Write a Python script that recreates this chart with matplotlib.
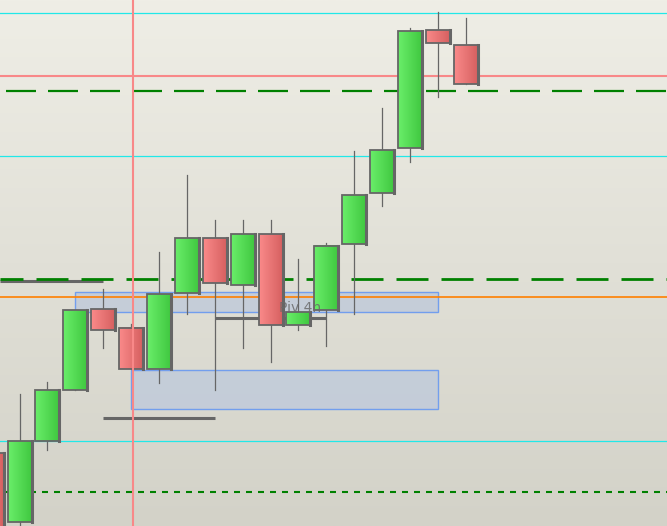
import numpy as np
import matplotlib.pyplot as plt
from matplotlib.patches import Rectangle
from matplotlib.colors import LinearSegmentedColormap

plt.rcParams['lines.scale_dashes'] = False

# candle index, open, high, low, close
idx = np.arange(18)
opens = [1.0873, 1.0804, 1.0885, 1.0936, 1.1017, 1.0998, 1.0957, 1.1033, 1.1088,
         1.1041, 1.1092, 1.1001, 1.1016, 1.1082, 1.1133, 1.1178, 1.1296, 1.1281]
highs = [1.0880, 1.0932, 1.0944, 1.1016, 1.1037, 1.1002, 1.1074, 1.1151, 1.1106,
         1.1106, 1.1106, 1.1067, 1.1083, 1.1175, 1.1218, 1.1298, 1.1314, 1.1308]
lows = [1.0791, 1.0794, 1.0876, 1.0936, 1.0978, 1.0957, 1.0943, 1.1012, 1.0936,
        1.0978, 1.0964, 1.0996, 1.0980, 1.1012, 1.1120, 1.1164, 1.1229, 1.1242]
closes = [1.0796, 1.0885, 1.0936, 1.1016, 1.0996, 1.0957, 1.1032, 1.1088, 1.1043,
          1.1092, 1.1001, 1.1014, 1.1080, 1.1131, 1.1176, 1.1295, 1.1283, 1.1242]

cyan_levels = [1.1313, 1.1170, 1.0885]
red_level = 1.1250
green_dash_levels = [1.1235, 1.1047]
green_dot_level = 1.0834
orange_level = 1.1029
# (level, x start, x end)
gray_segments = [(1.1045, 0.3, 4.0), (1.1008, 8.0, 12.0), (1.0908, 4.0, 8.0)]
# (x start, x end, low, high)
zones = [(3.0, 16.0, 1.1014, 1.1034), (5.0, 16.0, 1.0917, 1.0956)]
zone_label = "Piv 4h"
vline_x = 5.05

xmin, xmax = 0.30, 24.21
ymin, ymax = 1.0800, 1.1326

px = 0.72  # points per pixel
fig = plt.figure(figsize=(6.67, 5.26), dpi=100)
ax = fig.add_axes([0, 0, 1, 1])
ax.set_axis_off()

# background gradient
bg = LinearSegmentedColormap.from_list('bg', ['#d3d2c8', '#efeee6'])
ax.imshow(np.linspace(0, 1, 256).reshape(-1, 1), cmap=bg, aspect='auto',
          extent=[xmin, xmax, ymin, ymax], origin='lower', zorder=0)

# zones
for x0, x1, lo, hi in zones:
    ax.add_patch(Rectangle((x0, lo), x1 - x0, hi - lo, facecolor='#c3ccd9',
                           edgecolor='#6a9af0', lw=1.0, alpha=0.92, zorder=1))

for lvl in cyan_levels:
    ax.axhline(lvl, color='#22e8e8', lw=0.9, zorder=2)
ax.axhline(red_level, color='#f88888', lw=1.5, zorder=2)
ax.axhline(orange_level, color='#ff8000', lw=1.2, zorder=2)
for lvl, x0, x1 in gray_segments:
    ax.plot([x0, x1], [lvl, lvl], color='#666666', lw=2.2, solid_capstyle='butt', zorder=2)

ax.axhline(green_dash_levels[0], color='#008000', lw=1.6,
           linestyle=(36 * px, (30 * px, 12 * px)), zorder=3)
ax.axhline(green_dash_levels[1], color='#008000', lw=2.0,
           linestyle=(9 * px, (32 * px, 13 * px)), zorder=3)
ax.axhline(green_dot_level, color='#008000', lw=1.5,
           linestyle=(6 * px, (6 * px, 6 * px)), zorder=3)

ax.text(11.04, 1.1018, zone_label, color='#6a6a6a', fontsize=10, ha='center',
        va='center', alpha=0.85, zorder=6)

# candles
green = LinearSegmentedColormap.from_list('g', ['#6aee6a', '#40c840'])
red = LinearSegmentedColormap.from_list('r', ['#fa8a8a', '#d66060'])
grad = np.linspace(0, 1, 64).reshape(1, -1)
w = 0.86
for i, o, h, l, c in zip(idx, opens, highs, lows, closes):
    ax.plot([i, i], [l, h], color='#666666', lw=0.9, zorder=4)
    top, bot = max(o, c), min(o, c)
    cm = green if c >= o else red
    ax.imshow(grad, cmap=cm, aspect='auto', extent=[i - w / 2, i + w / 2, bot, top],
              zorder=5)
    ax.add_patch(Rectangle((i - w / 2, bot), w, top - bot, fill=False,
                           edgecolor='#666666', lw=1.3, zorder=5))
    ax.plot([i + w / 2, i + w / 2], [bot, top], color='#666666', lw=2.2, zorder=5)

ax.axvline(vline_x, color='#f88888', lw=1.5, zorder=7)

ax.set_xlim(xmin, xmax)
ax.set_ylim(ymin, ymax)
fig.savefig('out.png', dpi=100)
